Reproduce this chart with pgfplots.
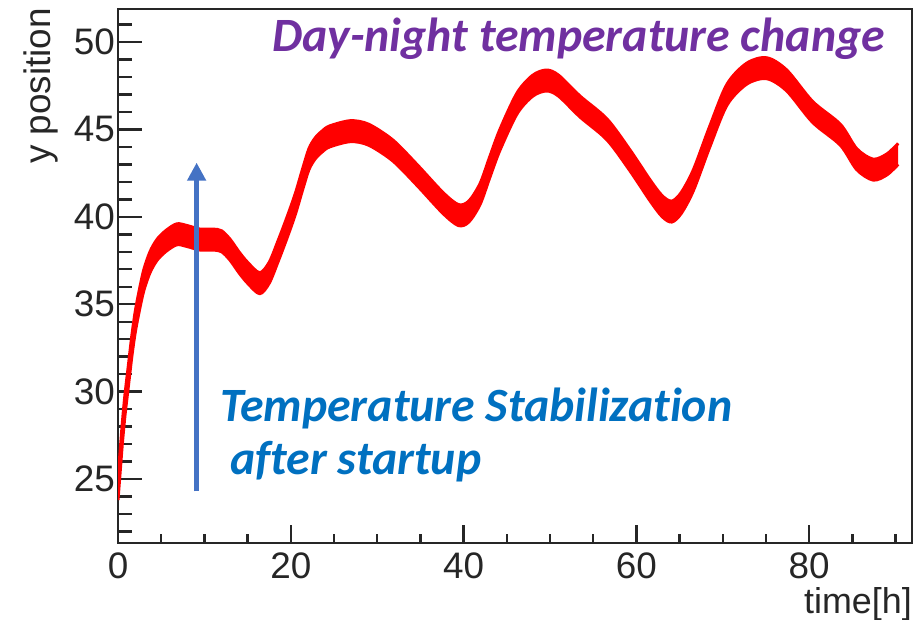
\documentclass[border=0pt]{standalone}
\usepackage{fontspec}
\setmainfont{Liberation Sans}
\newfontfamily\carlito[Ligatures=NoCommon]{Carlito}
\usepackage{pgfplots}
\usepackage{pgfplotstable}
\pgfplotsset{compat=1.18}
\usepgfplotslibrary{fillbetween}
\usetikzlibrary{arrows.meta}
\definecolor{dnpurple}{HTML}{7030A0}
\definecolor{tsblue}{HTML}{0070C0}
\definecolor{arrowblue}{HTML}{4472C4}
\definecolor{axgray}{HTML}{262626}
% t: time [h], lo / hi: lower and upper edge of the noisy y-position band
\pgfplotstableread{
t     lo    hi
0.0   23.8  25.2
0.25  25.4  26.6
0.5   27.0  28.2
0.8   28.6  29.8
1.2   30.3  31.5
1.6   32.0  33.2
2.0   33.4  34.6
2.5   34.7  35.9
3.0   35.8  37.0
3.7   36.8  38.0
4.5   37.5  38.7
5.5   38.0  39.2
6.8   38.4  39.6
8.0   38.3  39.5
9.5   38.1  39.3
11.0  38.1  39.3
12.0  38.0  39.2
13.0  37.5  38.7
14.0  36.8  38.0
15.0  36.2  37.4
16.4  35.6  36.8
17.5  36.2  37.4
18.5  37.4  38.6
19.5  38.7  39.9
20.5  40.1  41.3
21.4  41.6  42.8
22.1  42.7  43.9
22.8  43.3  44.5
23.6  43.7  44.9
24.5  44.0  45.2
26.9  44.3  45.5
29.0  44.1  45.3
31.8  43.2  44.4
34.6  41.8  43.0
37.6  40.2  41.4
39.4  39.5  40.7
40.6  39.7  40.9
41.9  40.7  41.9
43.0  42.2  43.4
44.2  43.8  45.0
46.2  45.9  47.1
48.0  46.9  48.1
49.6  47.2  48.4
51.0  46.9  48.1
53.5  45.7  46.9
56.6  44.4  45.6
59.3  42.6  43.8
61.6  40.9  42.1
63.0  40.0  41.2
64.1  39.7  40.9
65.2  40.2  41.4
66.6  41.5  42.7
68.5  44.0  45.2
70.5  46.4  47.6
72.8  47.6  48.8
75.1  47.9  49.1
77.4  47.2  48.4
80.4  45.4  46.6
83.6  44.1  45.3
85.5  42.7  43.9
87.4  42.1  43.3
89.0  42.4  43.6
90.3  43.0  44.2
}\band
\begin{document}
\begin{tikzpicture}
\begin{axis}[
  at={(118bp,77bp)}, anchor=south west,
  scale only axis, width=794bp, height=534bp,
  xmin=0, xmax=91.9, ymin=21.34, ymax=51.89,
  xtick={0,20,...,100}, ytick={20,25,...,55},
  minor x tick num=3, minor y tick num=4,
  tick align=inside, tick pos=left,
  axis line style={axgray, line width=2.4bp},
  every tick/.style={axgray, line width=2.4bp},
  major tick length=24bp, minor tick length=14bp,
  x tick style={/pgfplots/major tick length=18bp,/pgfplots/minor tick length=9bp},
  /pgf/number format/assume math mode=true,
  tick label style={font=\fontsize{37}{40}\selectfont, text=black!85},
  yticklabel style={inner sep=0pt, xshift=-3bp},
  xticklabel style={inner sep=0pt, yshift=-10bp},
  clip=true,
]
\addplot[name path=hi, red, line width=3bp, smooth, tension=0.5, line join=round] table[x=t, y=hi] {\band};
\addplot[name path=lo, red, line width=3bp, smooth, tension=0.5, line join=round] table[x=t, y=lo] {\band};
\addplot[red] fill between[of=hi and lo];
\draw[arrowblue, line width=5bp, -{Triangle[width=18bp,length=18bp]}]
  (axis cs:9.1,24.3) -- (axis cs:9.1,43.1);
\end{axis}
\node[rotate=90, anchor=base east, inner sep=0pt, text=black!85,
      font=\fontsize{37}{40}\selectfont] at (50bp,612bp) {y position};
\node[anchor=base east, inner sep=0pt, text=black!85,
      font=\fontsize{36}{40}\selectfont] at (912bp,7bp) {time[h]};
\node[anchor=base west, inner sep=0pt, text=dnpurple,
      font=\carlito\bfseries\itshape\fontsize{48}{52}\selectfont] at (272bp,568bp) {Day-night temperature change};
\node[anchor=base west, inner sep=0pt, text=tsblue,
      font=\carlito\bfseries\itshape\fontsize{48}{52}\selectfont] at (220bp,198bp) {Temperature Stabilization};
\node[anchor=base west, inner sep=0pt, text=tsblue,
      font=\carlito\bfseries\itshape\fontsize{48}{52}\selectfont] at (230bp,145bp) {after startup};
\pgfresetboundingbox
\useasboundingbox (0,0) rectangle (920bp,620bp);
\end{tikzpicture}
\end{document}
